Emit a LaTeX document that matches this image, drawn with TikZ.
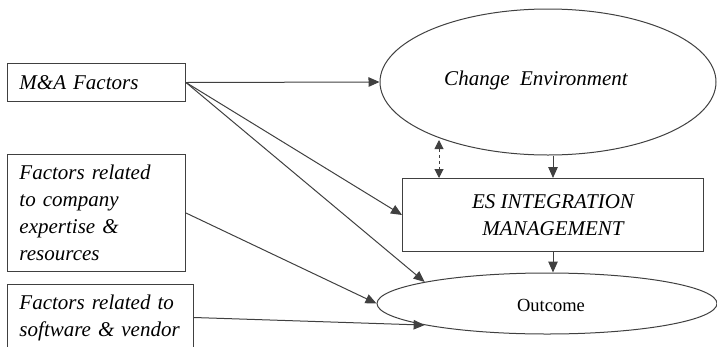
\documentclass[tikz,border=0pt]{standalone}
\usepackage{fontspec}
\setmainfont{Liberation Serif}
\usetikzlibrary{arrows.meta,shapes.geometric}
\definecolor{ln}{gray}{0.25}
\begin{document}
\begin{tikzpicture}[x=1pt,y=-1pt,
  line width=1pt,
  box/.style={draw=ln,rectangle,inner sep=0pt,font=\fontsize{21}{27}\selectfont\itshape},
  oval/.style={draw=ln,ellipse,inner sep=0pt},
  arr/.style={-{Triangle[length=11pt,width=9.5pt]},draw=ln,fill=none},
  darr/.style={{Triangle[length=9pt,width=9pt]}-{Triangle[length=9pt,width=9pt]},dashed,draw=ln}]
\useasboundingbox (0,0) rectangle (717,346);
\begin{scope}
\clip (0,0) rectangle (717,346);
% boxes
\node[box,minimum width=178pt,minimum height=38pt,anchor=north west,
  text width=154pt,align=left] (ma) at (7,63) {M\&A Factors};
\node[box,minimum width=178pt,minimum height=117pt,anchor=north west,
  text width=154pt,align=left] (fr) at (7,154) {Factors related\\to company\\expertise \&\\resources};
\node[box,minimum width=186pt,minimum height=66pt,anchor=north west,
  text width=162pt,align=left] (sv) at (7,284) {Factors related to\\software \& vendor};
% ellipses
\node[oval,minimum width=336pt,minimum height=146pt] (ce) at (548,82) {};
\node[font=\fontsize{21}{27}\selectfont\itshape,inner sep=0pt] (cet) at (536,80) {Change\ \ Environment};
\node[box,minimum width=301pt,minimum height=73pt,anchor=north west,
  align=center] (es) at (402,178) {ES INTEGRATION\\MANAGEMENT};
\node[oval,minimum width=340pt,minimum height=61pt] (oc) at (547,303.5) {};
\node[font=\fontsize{18.5}{22}\selectfont,inner sep=0pt] (oct) at (551,305) {Outcome};
% connectors
\draw[arr] (ma.east) -- (ce.west);
\draw[arr] (ma.east) -- (es.west);
\draw[arr] (ma.east) -- (oc.170);
\draw[arr] (fr.east) -- (oc.west);
\draw[arr] (sv.east) -- (oc.190);
\coordinate (dtop) at (439,140);
\draw[darr] (dtop) -- (dtop |- es.north);
\draw[arr] (es.north |- ce.south) -- (es.north);
\draw[arr] (es.south) -- (es.south |- oc.north);
\end{scope}
\end{tikzpicture}
\end{document}
